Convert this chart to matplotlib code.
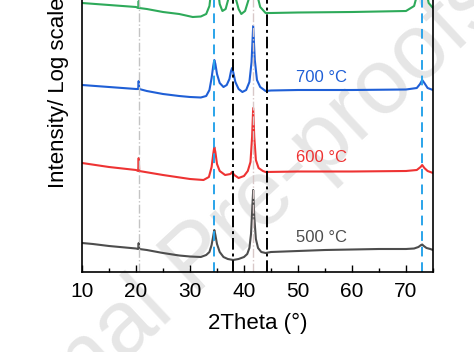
import numpy as np
import matplotlib.pyplot as plt

plt.rcParams['font.family'] = ['Liberation Sans', 'DejaVu Sans']

# XRD patterns, offset intensity (arb., log scale)
x_500 = [10, 12, 15, 18, 20, 20.4, 20.5, 20.6, 22, 25, 28, 30, 32, 33, 33.6, 34.0, 34.3, 34.5, 34.7, 35.0,
         35.5, 36.2, 37, 38, 39, 40, 40.6, 41.0, 41.3, 41.5, 41.7, 41.9, 42.2, 42.6, 43.2, 44, 45, 50,
         55, 60, 65, 70, 71.5, 72.3, 72.8, 73.0, 73.3, 73.8, 74.5, 75]
y_500 = [29, 28, 26, 24.5, 23.5, 23, 29, 23, 22, 19, 16.5, 15.5, 15, 17, 20, 27, 36, 42, 37, 28,
         20, 15, 13, 12, 13, 15, 18, 24, 38, 60, 82, 55, 33, 24, 20, 19, 20, 21,
         22, 22.5, 23, 23, 23.5, 25, 27, 27.5, 26, 24, 23, 22]

x_600 = [10, 15, 20, 20.4, 20.5, 20.6, 25, 30, 32.5, 33.5, 34.0, 34.3, 34.5, 34.7, 35.0, 35.5, 36.5,
         37.5, 37.8, 38.2, 39, 40, 40.7, 41.2, 41.5, 41.7, 41.9, 42.2, 42.7, 43.5, 44, 50, 60, 70,
         72, 72.7, 73, 73.4, 74, 75]
y_600 = [109, 105, 102, 101, 114, 101, 97, 93, 92, 95, 105, 118, 125, 120, 108, 101, 97,
         98, 100, 97, 94, 96, 101, 110, 135, 164, 135, 112, 104, 101, 100, 100.5, 100.5, 101,
         102, 105, 107, 104, 101, 99]

x_700 = [10, 15, 20, 20.4, 20.5, 20.6, 22, 25, 28, 30, 32, 33, 33.6, 34.0, 34.3, 34.5, 34.7, 35.0,
         35.5, 36.2, 36.8, 37.3, 37.6, 37.8, 38.0, 38.4, 39, 39.7, 40.4, 41.0, 41.4, 41.7, 42.0,
         42.4, 43, 44, 45, 50, 60, 70, 72, 72.6, 73, 73.4, 74, 75]
y_700 = [187, 185, 183, 183, 191, 183, 181, 178, 176, 175, 174.5, 176, 182, 194, 206, 212, 208, 198,
         189, 185, 187, 193, 201, 204, 200, 190, 183, 180, 182, 190, 210, 246, 212,
         192, 185, 181, 181.5, 182, 182, 182.5, 184, 188, 192, 189, 184, 182]

x_800 = [10, 15, 20, 20.4, 20.5, 20.6, 22, 25, 28, 30.5, 32, 33, 33.6, 34.0, 34.5, 35.0, 35.5, 36.0,
         36.6, 37.2, 37.8, 38.4, 39.0, 39.5, 40.2, 41.0, 41.7, 42.3, 43, 44, 45, 50, 60, 70, 71.5,
         72.3, 72.9, 73.5, 74.2, 75]
y_800 = [269, 267, 265, 264, 271, 264, 263, 260, 258, 255, 255.5, 258, 266, 285, 320, 290, 268, 261,
         263, 275, 305, 275, 263, 258, 261, 275, 330, 280, 265, 259, 259, 259.5, 260, 261, 266,
         282, 320, 287, 269, 264]

temps = ['500 °C', '600 °C', '700 °C', '800 °C']
colors = ['#4d4d4d', '#ee3333', '#1f5fd6', '#2eaa5a']

fig = plt.figure(figsize=(4.74, 3.52), dpi=100)
ax = fig.add_axes([82/474, 80/352, 351/474, 300/352])
ax.set_facecolor('none')

# watermark
fig.text(0.454, 0.304, 'Journal Pre-proofs', fontsize=66, color='#e6e6e6', rotation=43,
         ha='center', va='center', zorder=-1)

for xs, ys, c in zip([x_500, x_600, x_700, x_800], [y_500, y_600, y_700, y_800], colors):
    ax.plot(xs, ys, color=c, lw=1.5)

ax.axvline(20.5, color='#c4c4c4', lw=1, ls='-.')
ax.axvline(41.7, color='#d8c8c8', lw=1, ls='-.')
ax.axvline(34.5, color='#2aa4ea', lw=1.4, ls=(0, (5, 3)))
ax.axvline(73.0, color='#2aa4ea', lw=1.4, ls=(0, (5, 3)))
ax.axvline(38.0, color='black', lw=1.4, ls=(0, (6, 2, 1.5, 2)))
ax.axvline(44.2, color='black', lw=1.4, ls=(0, (6, 2, 1.5, 2)))

label_y = [34, 114, 194, 276]
for t, c, yy in zip(temps, colors, label_y):
    ax.text(54.4, yy, t, color=c, fontsize=12, ha='center', va='center')

ax.set_xlim(10, 75)
ax.set_ylim(0, 300)
ax.set_xticks(range(10, 71, 10))
ax.set_xticks(range(15, 76, 10), minor=True)
ax.set_yticks([])
ax.tick_params(axis='x', which='major', direction='in', length=5, width=1, labelsize=15, pad=7)
ax.tick_params(axis='x', which='minor', direction='in', length=3, width=1)
for s in ax.spines.values():
    s.set_linewidth(1.2)
ax.set_xlabel('2Theta (°)', fontsize=16, labelpad=9)
ax.set_ylabel('Intensity/ Log scale', fontsize=16)
ax.yaxis.set_label_coords(-0.036, 0.597)

fig.savefig('out.png', dpi=100)
